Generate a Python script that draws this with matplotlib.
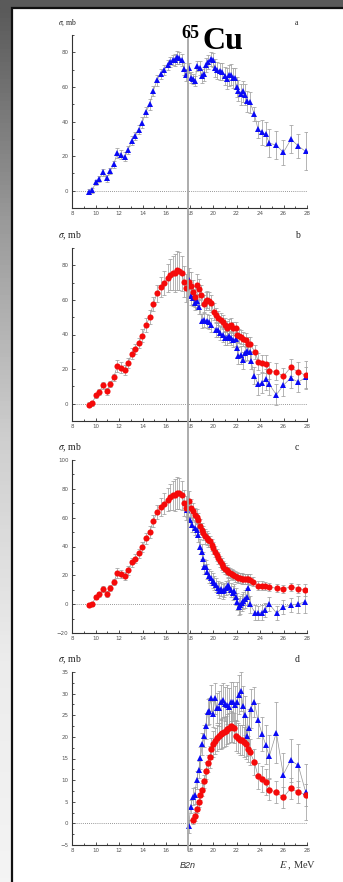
import numpy as np
import matplotlib
matplotlib.use("Agg")
import matplotlib.pyplot as plt
from matplotlib.patches import Rectangle
from matplotlib.lines import Line2D

plt.rcParams['mathtext.fontset'] = 'stix'

# common low-energy part (E < B2n), same in a, b, c
E_LOW = [9.42, 9.70, 10.04, 10.33, 10.64, 10.95, 11.26, 11.55, 11.86, 12.17,
         12.48, 12.77, 13.08, 13.39, 13.68, 13.98, 14.30, 14.61, 14.92, 15.23,
         15.55, 15.83, 16.14, 16.34, 16.57, 16.77, 16.91, 17.11, 17.34, 17.53, 17.70]
SIG_LOW = [-0.5, 0.2, 4.8, 6.8, 10.7, 7.1, 11.4, 15.2, 21.9, 20.9,
           19.6, 23.5, 29.0, 31.6, 35.2, 39.4, 45.6, 49.9, 57.7, 63.8,
           67.5, 69.8, 72.6, 74.5, 75.5, 75.5, 77.0, 76.8, 75.4, 70.5, 66.7]
ERR_LOW_A = [1.5, 1.5, 1.5, 1.5, 2, 2, 2, 2, 3, 2.5,
             2.5, 2.5, 2.5, 2.5, 2.5, 3, 3, 3, 3, 3,
             3, 3, 3, 3, 3, 3.5, 3.5, 3.5, 3.5, 3.5, 3.5]
ERR_LOW_BC = [1.5, 1.5, 1.5, 1.5, 2, 2, 2, 2, 3.5, 3,
              3, 3, 3, 3, 3, 3.5, 4, 4, 4, 5,
              6, 7, 8, 9, 10, 11, 11, 11, 10, 9, 8]

# panel a, above B2n
E_A_HI = [17.93, 18.15, 18.30, 18.47, 18.64, 18.89, 19.04, 19.23, 19.38, 19.60,
          19.80, 19.97, 20.17, 20.37, 20.60, 20.79, 21.00, 21.17, 21.33, 21.53,
          21.73, 21.85, 22.01, 22.15, 22.36, 22.53, 22.72, 22.92, 23.15, 23.52,
          23.83, 24.17, 24.49, 24.79, 25.39, 25.99, 26.64, 27.26, 27.89]
SIG_A_HI = [70.8, 65.4, 64.5, 63.3, 72.1, 70.9, 66.3, 67.3, 72.9, 74.2,
            76.1, 75.4, 70.9, 69.6, 69.0, 68.9, 66.3, 64.8, 66.7, 67.1,
            65.2, 65.0, 60.0, 57.7, 55.8, 57.5, 55.6, 51.6, 51.0, 44.4,
            35.4, 33.7, 32.7, 27.5, 26.3, 22.1, 29.8, 25.8, 22.7]
ERR_A_HI = [3, 3, 3, 3, 3, 4, 4, 4, 4, 4,
            4, 4, 5, 5, 5, 5, 5, 6, 6, 6,
            6, 6, 6, 6, 6, 6, 6, 6, 6, 4,
            5, 7, 7, 8, 8, 7, 8, 7, 11]

# panel b
E_B_RED = [17.93, 18.10, 18.27, 18.47, 18.64, 18.84, 19.01, 19.21, 19.38, 19.52,
           19.66, 19.86, 20.05, 20.22, 20.42, 20.65, 20.82, 20.99, 21.16, 21.36,
           21.53, 21.73, 21.93, 22.01, 22.24, 22.36, 22.58, 22.78, 22.95, 23.15,
           23.57, 23.86, 24.17, 24.48, 24.79, 25.39, 25.98, 26.61, 27.26, 27.89]
SIG_B_RED = [70.5, 68.0, 64.7, 61.8, 68.8, 66.3, 62.8, 57.8, 59.3, 60.1,
             59.3, 58.0, 53.2, 51.3, 49.3, 48.2, 47.4, 45.5, 43.9, 44.7,
             45.3, 43.5, 43.5, 39.7, 39.1, 38.7, 37.4, 36.8, 34.3, 34.3,
             30.1, 24.3, 23.3, 22.9, 19.1, 18.5, 15.8, 21.0, 18.3, 16.4]
ERR_B_RED = [8, 8, 7, 6, 6, 6, 6, 5, 5, 5,
             5, 5, 5, 4, 4, 4, 4, 4, 4, 4,
             4, 4, 4, 4, 4, 4, 4, 4, 4, 4,
             4, 5, 5, 5, 5, 5, 5, 5, 6, 8]
E_B_BLUE = [17.96, 18.10, 18.33, 18.47, 18.67, 18.84, 19.10, 19.27, 19.47, 19.66,
            19.86, 20.25, 20.42, 20.62, 20.82, 20.99, 21.16, 21.36, 21.53, 21.73,
            21.93, 22.01, 22.15, 22.36, 22.53, 22.72, 22.92, 23.15, 23.23, 23.52,
            23.83, 24.17, 24.48, 24.79, 25.39, 25.98, 26.61, 27.26, 27.89]
SIG_B_BLUE = [71.3, 62.2, 61.3, 58.2, 59.3, 56.1, 47.8, 48.6, 47.8, 47.0,
              45.5, 42.4, 42.8, 40.7, 39.7, 38.2, 37.8, 38.9, 37.8, 37.0,
              37.2, 32.0, 27.7, 28.1, 25.0, 29.5, 30.4, 29.9, 24.9, 16.2,
              11.2, 11.9, 14.1, 11.2, 5.2, 10.6, 14.8, 12.5, 15.2]
ERR_B_BLUE = [5, 5, 5, 4, 4, 4, 4, 4, 4, 4,
              4, 4, 4, 4, 4, 4, 4, 4, 4, 4,
              4, 5, 5, 5, 5, 5, 5, 5, 5, 5,
              6, 6, 6, 6, 6, 6, 6, 6, 6]

# panel c
E_C_RED = [17.96, 18.13, 18.32, 18.47, 18.61, 18.75, 18.89, 19.04, 19.17, 19.32,
           19.46, 19.60, 19.74, 19.89, 20.03, 20.17, 20.31, 20.45, 20.60, 20.74,
           20.88, 21.02, 21.16, 21.30, 21.45, 21.59, 21.73, 21.87, 22.02, 22.16,
           22.30, 22.44, 22.58, 22.72, 22.87, 23.01, 23.15, 23.43,
           23.86, 24.14, 24.43, 24.79, 25.42, 25.98, 26.64, 27.26, 27.86]
SIG_C_RED = [71.3, 66.7, 64.3, 62.0, 60.8, 58.5, 53.9, 51.6, 49.3, 47.0,
             45.8, 44.7, 43.5, 41.2, 38.9, 36.5, 34.2, 31.9, 29.6, 27.8,
             26.1, 24.7, 23.8, 22.6, 21.5, 20.8, 20.1, 19.2, 18.7, 18.3,
             18.1, 17.8, 17.6, 17.4, 17.4, 17.4, 17.1, 15.7,
             12.9, 12.9, 12.5, 11.8, 11.1, 10.6, 12.0, 10.8, 9.9]
ERR_C_RED = [7, 6, 6, 5, 5, 5, 5, 5, 5, 5,
             5, 5, 4, 4, 4, 4, 4, 4, 4, 4,
             4, 4, 3.5, 3.5, 3.5, 3.5, 3.5, 3.5, 3.5, 3.5,
             3.5, 3.5, 3.5, 3.5, 3.5, 3.5, 3.5, 3,
             3, 3, 3, 3, 3, 3, 3, 3, 4]
E_C_BLUE = [17.81, 18.04, 18.24, 18.44, 18.61, 18.75, 18.89, 19.04, 19.12, 19.23,
            19.38, 19.51, 19.69, 19.83, 19.97, 20.11, 20.26, 20.40, 20.54, 20.68,
            20.82, 20.96, 21.11, 21.25, 21.39, 21.53, 21.68, 21.81, 21.96, 22.07,
            22.19, 22.30, 22.44, 22.58, 22.72, 22.87, 23.00, 23.15, 23.57, 23.86,
            24.14, 24.43, 24.79, 25.42, 25.98, 26.64, 27.26, 27.86]
SIG_C_BLUE = [65.5, 58.5, 55.1, 52.8, 51.6, 48.1, 40.0, 36.5, 31.2, 26.1,
              25.7, 22.6, 19.7, 18.1, 16.4, 14.6, 13.4, 11.1, 9.4, 10.4,
              8.8, 9.9, 11.1, 13.4, 11.8, 9.9, 7.6, 8.8, 5.3, 1.8,
              -1.7, -0.5, 1.1, 2.5, 3.5, 5.3, 11.1, 0.0, -5.8, -6.3,
              -5.8, -4.0, 0.0, -6.3, -1.9, -0.7, 0.0, 1.8]
ERR_C_BLUE = [5, 5, 5, 5, 5, 5, 5, 5, 5, 5,
              5, 5, 5, 5, 5, 5, 5, 5, 5, 5,
              5, 5, 5, 5, 5, 5, 5, 5, 6, 6,
              6, 6, 6, 6, 6, 6, 6, 6, 5, 5,
              5, 5, 5, 5, 5, 5, 6, 8]

# panel d
E_D_BLUE = [17.93, 18.10, 18.27, 18.44, 18.61, 18.79, 18.92, 19.10, 19.27, 19.38,
            19.55, 19.66, 19.80, 19.97, 20.17, 20.34, 20.48, 20.65, 20.82, 20.99,
            21.16, 21.33, 21.53, 21.70, 21.87, 22.04, 22.21, 22.38, 22.55, 22.72,
            22.89, 23.06, 23.20, 23.52, 23.83, 24.17, 24.48, 24.79, 25.39, 25.98,
            26.61, 27.26, 27.89]
SIG_D_BLUE = [-0.7, 3.9, 6.2, 6.5, 10.0, 12.4, 15.1, 18.3, 20.2, 22.6,
              25.7, 26.0, 28.9, 25.2, 28.9, 26.6, 26.6, 28.0, 28.5, 27.6,
              27.4, 26.9, 28.1, 28.1, 27.3, 28.1, 29.7, 30.5, 27.2, 25.0,
              20.1, 22.0, 26.5, 28.0, 23.8, 20.7, 18.2, 15.5, 21.0, 11.3,
              14.6, 13.4, 7.2]
ERR_D_BLUE = [1.5, 1.5, 2, 2, 2, 2, 2.5, 2.5, 2.5, 3,
              3, 3, 3, 3, 3.5, 3.5, 4, 4, 4, 4,
              4.5, 4.5, 4.5, 4.5, 4.5, 4.5, 4.5, 4.5, 4.5, 4.5,
              4.5, 4.5, 4.5, 3.5, 4, 4, 4.5, 5, 7, 5,
              5, 5, 6.5]
E_D_RED = [18.27, 18.44, 18.61, 18.79, 18.92, 19.10, 19.27, 19.41, 19.58, 19.75,
           19.86, 20.03, 20.20, 20.34, 20.48, 20.65, 20.79, 20.94, 21.08, 21.22,
           21.36, 21.50, 21.65, 21.79, 21.96, 22.13, 22.30, 22.44, 22.61, 22.78,
           22.95, 23.12, 23.52, 23.83, 24.17, 24.48, 24.79, 25.39, 25.98, 26.61,
           27.26, 27.89]
SIG_D_RED = [0.7, 1.6, 3.4, 4.9, 6.6, 7.8, 9.7, 12.2, 13.9, 15.3,
             17.3, 18.3, 19.0, 19.7, 20.1, 20.6, 20.9, 21.2, 21.4, 21.8,
             22.1, 22.4, 22.3, 22.0, 20.3, 19.7, 19.3, 19.2, 18.8, 18.4,
             17.2, 16.6, 14.2, 10.9, 10.3, 9.5, 7.8, 7.2, 6.0, 8.1,
             7.2, 6.6]
ERR_D_RED = [0.8, 1, 1, 1.2, 1.3, 1.5, 1.5, 2, 2, 2.5,
             2.5, 3, 3, 3, 3, 3.5, 3.5, 3.5, 3.5, 3.5,
             3.5, 3.5, 3.5, 3.5, 3.5, 3.5, 3.5, 3.5, 3.5, 3.5,
             3, 3, 3, 3, 3, 3, 2.5, 2.5, 2.5, 2.5,
             2.5, 2.5]

W, H = 343, 882
B2N = 17.83
BLUE = '#0a0af5'
RED = '#f50a0a'


def fx(px):
    return px / W


def fy(py):
    return 1 - py / H


def draw(ax, e, s, err, color, marker, ms):
    ax.errorbar(e, s, yerr=err, fmt='none', ecolor='#a0a0a0', elinewidth=0.55,
                capsize=1.3, capthick=0.55, zorder=2)
    ax.plot(e, s, '-', color='#959595', lw=0.5, zorder=3)
    ax.plot(e, s, ls='none', marker=marker, color=color, ms=ms, mew=0, zorder=4)


fig = plt.figure(figsize=(W / 100, H / 100), dpi=100)

# frame background
bg = fig.add_axes([0, 0, 1, 1], zorder=-5)
bg.set_xlim(0, W)
bg.set_ylim(H, 0)
grad = np.linspace(0, 1, 200).reshape(-1, 1)
cmap = matplotlib.colors.LinearSegmentedColormap.from_list(
    'g', ['#585858', '#9a9a9a', '#cfcfcf', '#ececec', '#f4f4f4'])
bg.imshow(grad, cmap=cmap, extent=[0, W, H, 0], aspect='auto')
bg.add_patch(Rectangle((0, 0), W, 8, color='#5a5a5a'))
bg.add_patch(Rectangle((11.5, 7.5), W, H, facecolor='white', edgecolor='#111111', lw=1.6))
bg.axis('off')

tops = [35, 248, 460, 672]
ylims = [(-10, 90), (-10, 90), (-20, 100), (-5, 35)]
yticks = [range(0, 81, 20), range(0, 81, 20), range(-20, 101, 20), np.arange(-5, 36, 5)]
yminor = [10, 10, 10, 2.5]
letters = ['a', 'b', 'c', 'd']

axes = []
for i in range(4):
    ax = fig.add_axes([fx(72), fy(tops[i] + 173), fx(235), 173 / H])
    ax.set_xlim(8, 28)
    ax.set_ylim(*ylims[i])
    ax.patch.set_alpha(0)
    for side in ['top', 'right']:
        ax.spines[side].set_visible(False)
    for side in ['left', 'bottom']:
        ax.spines[side].set_linewidth(0.8)
        ax.spines[side].set_color('#333333')
    ax.set_xticks(range(8, 29, 2))
    ax.set_xticks(range(9, 28, 2), minor=True)
    ax.set_yticks(list(yticks[i]))
    ax.yaxis.set_minor_locator(matplotlib.ticker.MultipleLocator(yminor[i]))
    ax.tick_params(which='both', direction='in', width=0.6, labelsize=4,
                   labelcolor='#555555', color='#333333', pad=2.5)
    ax.tick_params(which='major', length=2.5)
    ax.tick_params(which='minor', length=1.5)
    ax.axhline(0, ls=(0, (1, 1.5)), color='#777777', lw=0.6, zorder=1)
    fs = 5.5 if i == 0 else 7
    fig.text(fx(58), fy(tops[i] - 12), r'$\sigma$, mb', fontsize=fs,
             family='Liberation Serif', va='center', ha='left', color='#222222')
    fig.text(fx(295), fy(tops[i] - 12), letters[i], fontsize=fs,
             family='Liberation Serif', va='center', ha='left', color='#222222')
    axes.append(ax)

ax_a, ax_b, ax_c, ax_d = axes

draw(ax_a, E_LOW + E_A_HI, SIG_LOW + SIG_A_HI, ERR_LOW_A + ERR_A_HI, BLUE, '^', 4.2)

draw(ax_b, E_B_BLUE, SIG_B_BLUE, ERR_B_BLUE, BLUE, '^', 4.2)
draw(ax_b, E_LOW + E_B_RED, SIG_LOW + SIG_B_RED, ERR_LOW_BC + ERR_B_RED, RED, 'o', 4.4)

draw(ax_c, E_C_BLUE, SIG_C_BLUE, ERR_C_BLUE, BLUE, '^', 4.2)
draw(ax_c, E_LOW + E_C_RED, SIG_LOW + SIG_C_RED, ERR_LOW_BC + ERR_C_RED, RED, 'o', 4.4)

draw(ax_d, E_D_BLUE, SIG_D_BLUE, ERR_D_BLUE, BLUE, '^', 4.2)
draw(ax_d, E_D_RED, SIG_D_RED, ERR_D_RED, RED, 'o', 4.6)

# B2n threshold line through all panels
xl = ax_a.transData.transform((B2N, 0))[0] / fig.bbox.width
fig.add_artist(Line2D([xl, xl], [fy(39), fy(850)], color='#a6a6a6', lw=1.3, zorder=10))

# title
fig.text(fx(181), fy(25), '65', fontsize=13, fontweight='bold',
         family='Liberation Serif', va='top', ha='left')
fig.text(fx(202), fy(49), 'Cu', fontsize=23, fontweight='bold',
         family='Liberation Serif', va='baseline', ha='left')

# x labels
fig.text(xl, fy(866), 'B2n', fontsize=6.5, style='italic', family='Liberation Sans',
         ha='center', va='center', color='#333333')
fig.text(fx(279), fy(866), r'$E$ , MeV', fontsize=7.5, family='Liberation Serif',
         ha='left', va='center', color='#333333')

fig.savefig('out.png', dpi=100)
